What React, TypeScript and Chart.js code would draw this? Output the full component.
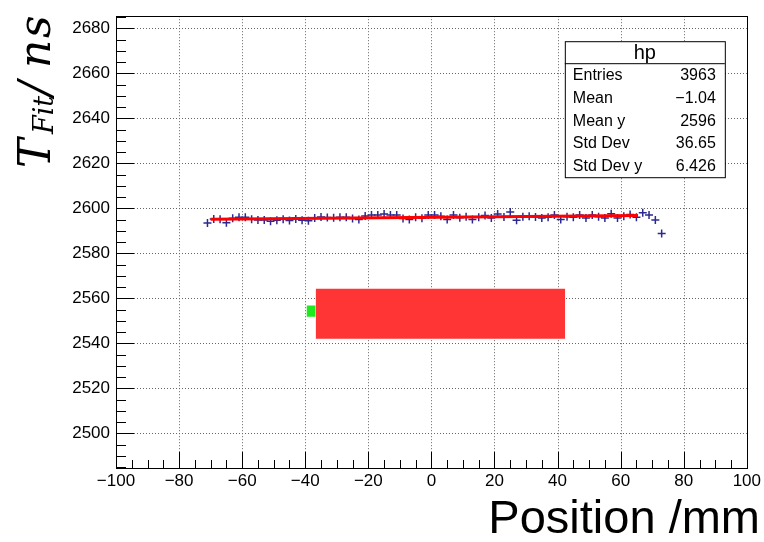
import React, { useEffect, useRef } from "react";
import { Chart, registerables } from "chart.js";

Chart.register(...registerables);

// ---- data ----
const xTicks = [-100, -80, -60, -40, -20, 0, 20, 40, 60, 80, 100];
const yTicks = [2500, 2520, 2540, 2560, 2580, 2600, 2620, 2640, 2660, 2680];
const xRange = [-100, 100];
const yRange = [2484.6, 2685.4];
const xMinorStep = 5;
const yMinorStep = 5;

const profileX = [
  -71, -69, -67, -65, -63, -61, -59, -57, -55, -53, -51, -49, -47, -45, -43, -41, -39, -37,
  -35, -33, -31, -29, -27, -25, -23, -21, -19, -17, -15, -13, -11, -9, -7, -5, -3, -1,
  1, 3, 5, 7, 9, 11, 13, 15, 17, 19, 21, 23, 25, 27, 29, 31, 33, 35, 37, 39, 41, 43, 45,
  47, 49, 51, 53, 55, 57, 59, 61, 63, 65, 67, 69, 71, 73,
];
const profileY = [
  2593.5, 2595.3, 2595.2, 2593.6, 2595.6, 2596.0, 2596.0, 2595.2, 2594.8, 2594.8, 2594.3,
  2594.7, 2595.2, 2594.6, 2595.3, 2594.7, 2594.5, 2595.7, 2596.2, 2595.9, 2595.8, 2596.0,
  2596.0, 2595.5, 2595.0, 2596.6, 2597.0, 2597.0, 2597.5, 2597.0, 2597.0, 2595.5, 2595.0,
  2596.0, 2595.6, 2597.0, 2597.0, 2596.5, 2595.0, 2597.0, 2595.8, 2596.3, 2595.0, 2596.0,
  2596.8, 2595.7, 2597.5, 2596.2, 2598.4, 2594.7, 2596.3, 2596.5, 2596.2, 2595.7, 2596.0,
  2597.0, 2595.0, 2596.3, 2596.0, 2597.0, 2595.7, 2597.0, 2596.3, 2595.7, 2597.6, 2595.7,
  2596.5, 2597.3, 2596.0, 2598.0, 2597.0, 2594.8, 2588.8,
];

const fitX = [-70, 65.5];
const fitY = [2595.2, 2596.8];

const redBoxX = [-36.7, 42.4];
const redBoxY = [2542.1, 2564.3];
const greenBoxX = [-39.6, -36.7];
const greenBoxY = [2551.8, 2556.8];

const statsTitle = "hp";
const statsLabels = ["Entries", "Mean", "Mean y", "Std Dev", "Std Dev y"];
const statsValues = ["3963", "\u22121.04", "2596", "36.65", "6.426"];

const xTitle = "Position /mm";
const yTitleMain = "T";
const yTitleSub = "Fit";
const yTitleRest = ["/", "n", "s"];

const SANS = "'Liberation Sans', Arial, Helvetica, sans-serif";
const SERIF = "'DejaVu Serif', 'Liberation Serif', serif";

function drawFrameAndTicks(chart: any) {
  const { ctx, chartArea, scales } = chart;
  const xs = scales.x;
  const ys = scales.y;
  const { left, right, top, bottom } = chartArea;
  ctx.save();
  ctx.strokeStyle = "#000";
  ctx.lineWidth = 1;
  ctx.strokeRect(Math.round(left) + 0.5, Math.round(top) + 0.5, Math.round(right - left), Math.round(bottom - top));
  for (let v = xRange[0]; v <= xRange[1] + 1e-9; v += xMinorStep) {
    const px = Math.round(xs.getPixelForValue(v)) + 0.5;
    const len = xTicks.includes(v) ? 16 : 8;
    ctx.beginPath();
    ctx.moveTo(px, bottom);
    ctx.lineTo(px, bottom - len);
    ctx.stroke();
  }
  const yStart = Math.ceil(yRange[0] / yMinorStep) * yMinorStep;
  for (let v = yStart; v <= yRange[1] + 1e-9; v += yMinorStep) {
    const py = Math.round(ys.getPixelForValue(v)) + 0.5;
    const len = yTicks.includes(v) ? 18 : 10;
    ctx.beginPath();
    ctx.moveTo(left, py);
    ctx.lineTo(left + len, py);
    ctx.stroke();
  }
  ctx.restore();
}

const gridPlugin = {
  id: "rootGrid",
  beforeDatasetsDraw(chart: any) {
    const { ctx, chartArea, scales } = chart;
    const { left, right, top, bottom } = chartArea;
    ctx.save();
    ctx.strokeStyle = "#666";
    ctx.lineWidth = 1;
    ctx.setLineDash([1, 2]);
    xTicks.forEach((v) => {
      const px = Math.round(scales.x.getPixelForValue(v)) + 0.5;
      ctx.beginPath();
      ctx.moveTo(px, top);
      ctx.lineTo(px, bottom);
      ctx.stroke();
    });
    yTicks.forEach((v) => {
      const py = Math.round(scales.y.getPixelForValue(v)) + 0.5;
      ctx.beginPath();
      ctx.moveTo(left, py);
      ctx.lineTo(right, py);
      ctx.stroke();
    });
    ctx.restore();
  },
  afterDatasetsDraw(chart: any) {
    drawFrameAndTicks(chart);
    const { ctx, chartArea } = chart;
    // stats box
    const bx0 = chartArea.right - 182;
    const bx1 = chartArea.right - 22;
    const by0 = chartArea.top + 25;
    const by1 = chartArea.top + 161;
    const hdr = by0 + 22;
    ctx.save();
    ctx.fillStyle = "#fff";
    ctx.fillRect(bx0, by0, bx1 - bx0, by1 - by0);
    ctx.strokeStyle = "#000";
    ctx.lineWidth = 1;
    ctx.strokeRect(bx0 + 0.5, by0 + 0.5, bx1 - bx0, by1 - by0);
    ctx.beginPath();
    ctx.moveTo(bx0, hdr + 0.5);
    ctx.lineTo(bx1, hdr + 0.5);
    ctx.stroke();
    ctx.fillStyle = "#000";
    ctx.textBaseline = "middle";
    ctx.textAlign = "center";
    ctx.font = `20px ${SANS}`;
    ctx.fillText(statsTitle, (bx0 + bx1) / 2, by0 + 12);
    ctx.font = `16px ${SANS}`;
    const rh = (by1 - hdr) / statsLabels.length;
    statsLabels.forEach((lab, i) => {
      const cy = hdr + rh * (i + 0.5) + 1;
      ctx.textAlign = "left";
      ctx.fillText(lab, bx0 + 8, cy);
      ctx.textAlign = "right";
      ctx.fillText(statsValues[i], bx1 - 9, cy);
    });
    ctx.restore();

    // x title
    ctx.save();
    ctx.fillStyle = "#000";
    ctx.font = `47px ${SANS}`;
    ctx.textAlign = "right";
    ctx.textBaseline = "alphabetic";
    ctx.fillText(xTitle, chart.width - 4, chart.height - 9);
    ctx.restore();

    // y title (rotated, math italic)
    ctx.save();
    ctx.fillStyle = "#000";
    ctx.translate(50, 168);
    ctx.rotate(-Math.PI / 2);
    ctx.textAlign = "left";
    ctx.textBaseline = "alphabetic";
    ctx.font = `italic 44px ${SERIF}`;
    ctx.fillText(yTitleMain, 0, 0);
    ctx.font = `italic 27px ${SERIF}`;
    ctx.fillText(yTitleSub, 34, 3);
    ctx.font = `italic 44px ${SERIF}`;
    const pos = [72, 100, 130];
    yTitleRest.forEach((t, i) => ctx.fillText(t, pos[i], 0));
    ctx.restore();
  },
};

export default function App() {
  const ref = useRef<HTMLCanvasElement | null>(null);
  useEffect(() => {
    if (!ref.current) return;
    const chart = new Chart(ref.current, {
      type: "line",
      data: {
        datasets: [
          {
            label: "fit",
            data: fitX.map((x, i) => ({ x, y: fitY[i] })),
            borderColor: "#ff0000",
            borderWidth: 3,
            pointRadius: 0,
            fill: false,
          },
          {
            label: "profile",
            data: profileX.map((x, i) => ({ x, y: profileY[i] })),
            showLine: false,
            pointStyle: "cross",
            pointRadius: 4,
            borderColor: "#2a2a90",
            backgroundColor: "#2a2a90",
            borderWidth: 1.5,
          },
          {
            label: "redBox",
            data: redBoxX.map((x) => ({ x, y: redBoxY[1] })),
            borderWidth: 0,
            borderColor: "rgba(0,0,0,0)",
            backgroundColor: "#ff3535",
            pointRadius: 0,
            fill: { value: redBoxY[0] },
          },
          {
            label: "greenBox",
            data: greenBoxX.map((x) => ({ x, y: greenBoxY[1] })),
            borderWidth: 0,
            borderColor: "rgba(0,0,0,0)",
            backgroundColor: "#1ee81e",
            pointRadius: 0,
            fill: { value: greenBoxY[0] },
          },
        ],
      },
      options: {
        animation: false,
        responsive: true,
        maintainAspectRatio: false,
        layout: { padding: { left: 0, top: 13, right: 16, bottom: 0 } },
        plugins: { legend: { display: false }, tooltip: { enabled: false } },
        scales: {
          x: {
            type: "linear",
            min: xRange[0],
            max: xRange[1],
            afterBuildTicks: (s: any) => {
              s.ticks = xTicks.map((v) => ({ value: v }));
            },
            afterFit: (s: any) => {
              s.height = 74;
            },
            grid: { display: false, drawTicks: false },
            border: { display: false },
            ticks: {
              color: "#000",
              padding: 3,
              maxRotation: 0,
              autoSkip: false,
              font: { family: SANS, size: 17 },
              callback: (v: any) => (v < 0 ? "\u2212" + Math.abs(v) : String(v)),
            },
          },
          y: {
            type: "linear",
            min: yRange[0],
            max: yRange[1],
            afterBuildTicks: (s: any) => {
              s.ticks = yTicks.map((v) => ({ value: v }));
            },
            afterFit: (s: any) => {
              s.width = 116;
            },
            grid: { display: false, drawTicks: false },
            border: { display: false },
            ticks: {
              color: "#000",
              padding: 6,
              autoSkip: false,
              font: { family: SANS, size: 17 },
              callback: (v: any) => String(v),
            },
          },
        },
      },
      plugins: [gridPlugin],
    } as any);
    return () => chart.destroy();
  }, []);
  return (
    <div style={{ position: "fixed", left: 0, top: 0, width: 764, height: 542, background: "#fff" }}>
      <canvas ref={ref} />
    </div>
  );
}
